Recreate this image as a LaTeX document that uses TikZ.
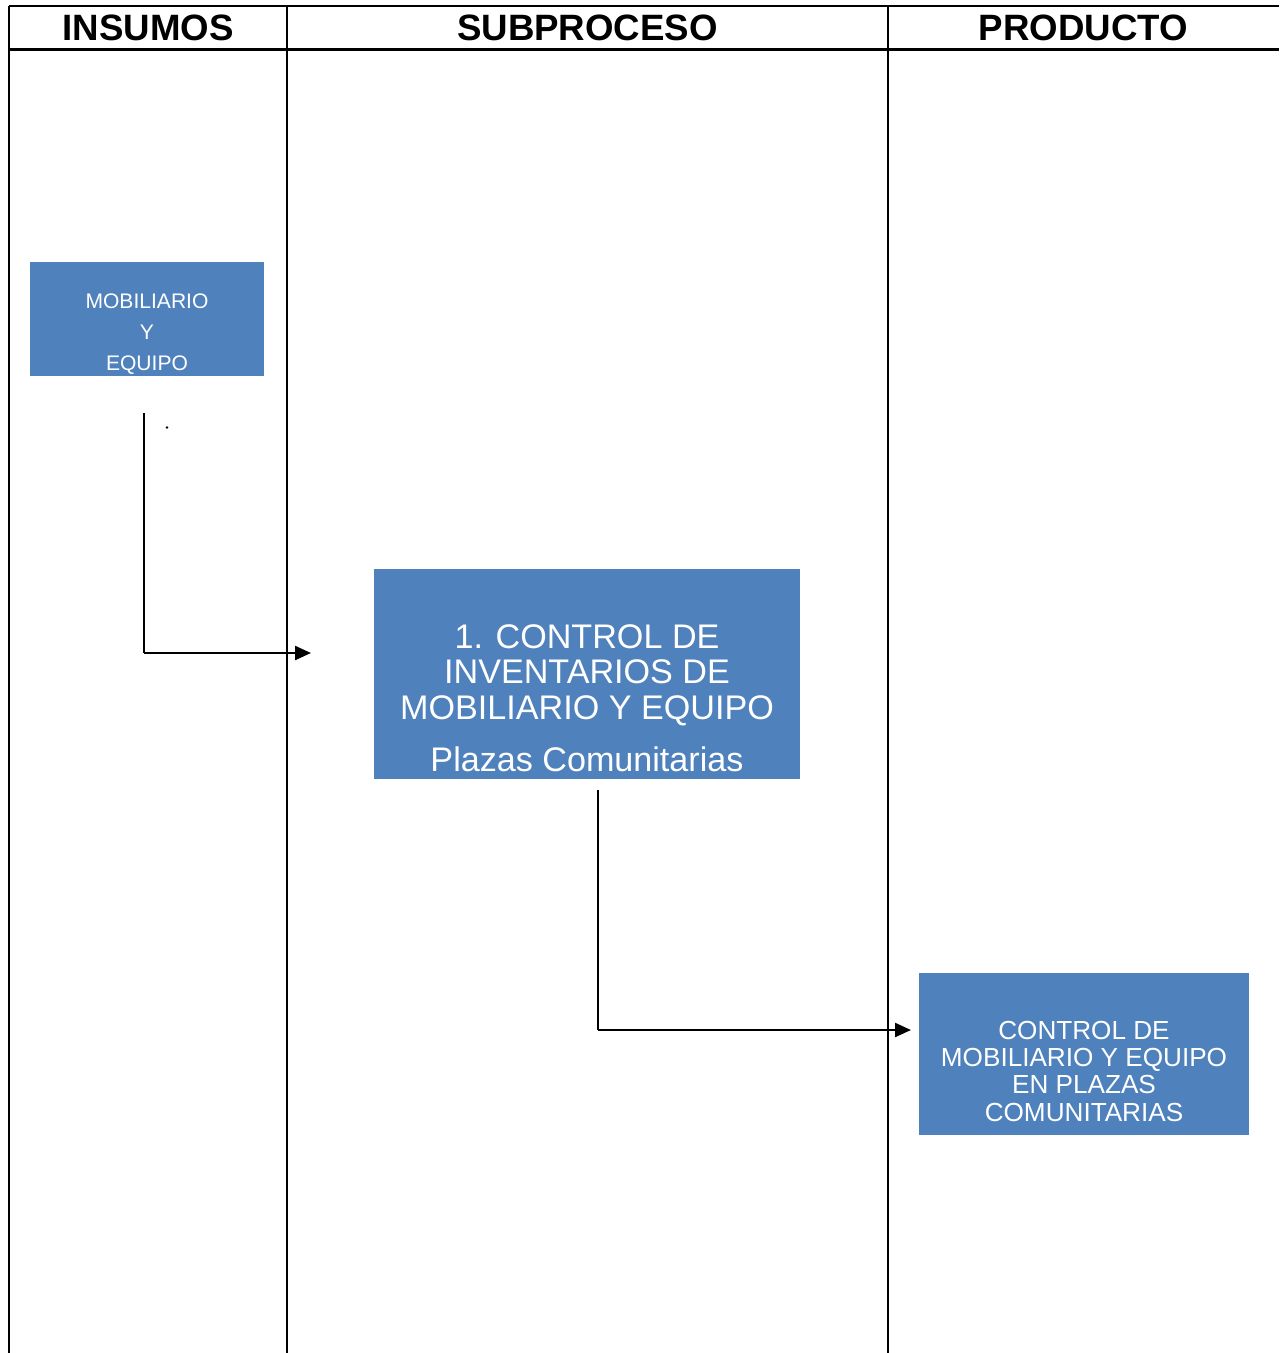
\documentclass[tikz,border=0pt]{standalone}
\usepackage{fontspec}
\setmainfont{Liberation Sans}
\usetikzlibrary{arrows.meta}
\definecolor{boxblue}{HTML}{4F81BD}
\tikzset{
  grid/.style={line width=1.9pt},
  hdr/.style={font=\fontsize{27.5}{30}\selectfont\bfseries, anchor=center},
  bluebox/.style={fill=boxblue, draw=none, inner sep=0pt},
  boxtext/.style={text=white, align=center, inner sep=0pt},
  link/.style={line width=1.7pt},
  flow/.style={link, -{Triangle[length=12pt,width=10.5pt]}},
}
\begin{document}
\begin{tikzpicture}[x=0.75pt,y=-0.75pt]
\useasboundingbox (0,0) rectangle (1279,1353);
\fill[white] (0,0) rectangle (1279,1353);

% swimlane frame
\draw[grid] (9,6) -- (1279,6);
\draw[grid] (9,49.5) -- (1279,49.5);
\draw[grid] (9,6) -- (9,1353);
\draw[grid] (287,6) -- (287,1353);
\draw[grid] (888,6) -- (888,1353);

% column headings
\node[hdr] (hIns) at (148,28) {INSUMOS};
\node[hdr] (hSub) at (587.5,28) {SUBPROCESO};
\node[hdr] (hPro) at (1083.5,28) {PRODUCTO};

% input
\node[bluebox, minimum width=234*0.75pt, minimum height=114*0.75pt] (ins) at (147,319) {};
\node[boxtext, font=\fontsize{15.8}{23.2}\selectfont] (insT) at (147,334)
      {MOBILIARIO\\Y\\EQUIPO};

% subprocess
\node[bluebox, minimum width=426*0.75pt, minimum height=210*0.75pt] (sub) at (587,674) {};
\node[boxtext, font=\fontsize{25.6}{26.6}\selectfont] (subT) at (587,675)
      {1. CONTROL DE\\INVENTARIOS DE\\MOBILIARIO Y EQUIPO};
\node[boxtext, font=\fontsize{25.6}{26.6}\selectfont] (subP) at (587,759)
      {Plazas Comunitarias};

% product
\node[bluebox, minimum width=330*0.75pt, minimum height=162*0.75pt] (pro) at (1084,1054) {};
\node[boxtext, font=\fontsize{19.6}{20.5}\selectfont] (proT) at (1084,1071)
      {CONTROL DE\\MOBILIARIO Y EQUIPO\\EN PLAZAS\\COMUNITARIAS};

% connectors
\coordinate (a0) at (144,413);
\coordinate (a1) at (144,653);
\coordinate (a2) at (311,653);
\draw[link] (a0) -- (a1);
\draw[flow] (a1) -- (a2);

\coordinate (b0) at (598,790);
\coordinate (b1) at (598,1030);
\coordinate (b2) at (911,1030);
\draw[link] (b0) -- (b1);
\draw[flow] (b1) -- (b2);

% stray mark beside the input line
\fill (167,427.5) circle (1.1pt);
\end{tikzpicture}
\end{document}
